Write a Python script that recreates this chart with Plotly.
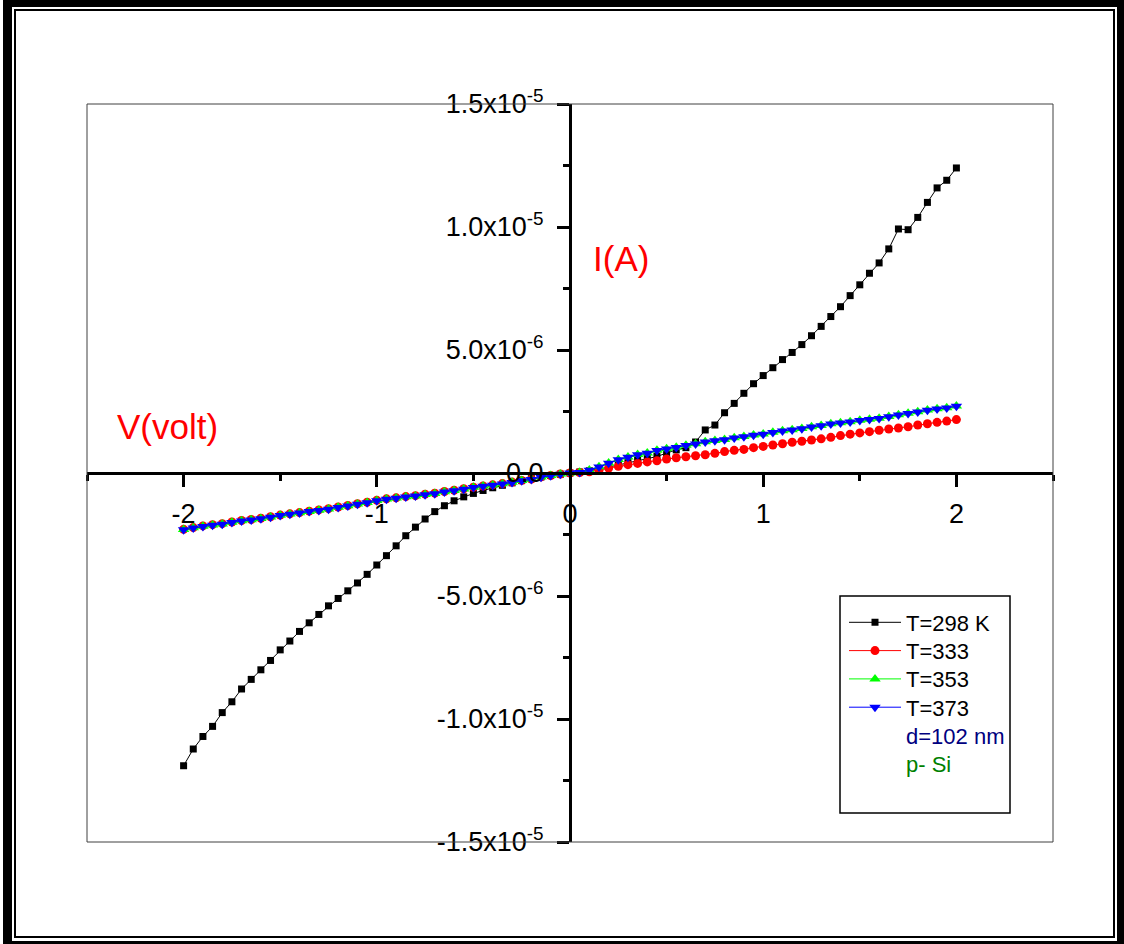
import plotly.graph_objects as go

# Bias voltage sweep (V)
voltage = [
    -2.00, -1.95, -1.90, -1.85, -1.80, -1.75, -1.70, -1.65, -1.60, -1.55,
    -1.50, -1.45, -1.40, -1.35, -1.30, -1.25, -1.20, -1.15, -1.10, -1.05,
    -1.00, -0.95, -0.90, -0.85, -0.80, -0.75, -0.70, -0.65, -0.60, -0.55,
    -0.50, -0.45, -0.40, -0.35, -0.30, -0.25, -0.20, -0.15, -0.10, -0.05,
    0.00, 0.05, 0.10, 0.15, 0.20, 0.25, 0.30, 0.35, 0.40, 0.45,
    0.50, 0.55, 0.60, 0.65, 0.70, 0.75, 0.80, 0.85, 0.90, 0.95,
    1.00, 1.05, 1.10, 1.15, 1.20, 1.25, 1.30, 1.35, 1.40, 1.45,
    1.50, 1.55, 1.60, 1.65, 1.70, 1.75, 1.80, 1.85, 1.90, 1.95,
    2.00,
]

# Measured current in microamps for each temperature
current_298_uA = [
    -11.90, -11.22, -10.71, -10.30, -9.74, -9.30, -8.78, -8.39, -8.00, -7.62,
    -7.19, -6.83, -6.44, -6.09, -5.75, -5.40, -5.10, -4.79, -4.47, -4.12,
    -3.74, -3.36, -2.96, -2.55, -2.20, -1.87, -1.57, -1.33, -1.13, -0.97,
    -0.83, -0.71, -0.60, -0.50, -0.40, -0.31, -0.23, -0.16, -0.10, -0.05,
    0.00, 0.04, 0.09, 0.16, 0.24, 0.33, 0.43, 0.52, 0.59, 0.67,
    0.81, 0.94, 1.03, 1.26, 1.75, 1.95, 2.45, 2.83, 3.24, 3.63,
    3.96, 4.28, 4.61, 4.90, 5.22, 5.58, 5.96, 6.36, 6.76, 7.21,
    7.65, 8.12, 8.54, 9.11, 9.92, 9.89, 10.39, 11.00, 11.59, 11.90,
    12.40,
]
current_333_uA = [
    -2.29, -2.22, -2.15, -2.10, -2.06, -1.99, -1.93, -1.89, -1.84, -1.78,
    -1.71, -1.66, -1.61, -1.55, -1.50, -1.45, -1.38, -1.32, -1.25, -1.19,
    -1.11, -1.05, -1.01, -0.96, -0.92, -0.86, -0.82, -0.75, -0.70, -0.64,
    -0.58, -0.53, -0.48, -0.43, -0.37, -0.30, -0.25, -0.16, -0.10, -0.04,
    0.00, 0.02, 0.05, 0.11, 0.20, 0.27, 0.34, 0.39, 0.45, 0.50,
    0.57, 0.62, 0.66, 0.70, 0.74, 0.80, 0.87, 0.92, 0.96, 1.03,
    1.08, 1.14, 1.19, 1.25, 1.29, 1.34, 1.39, 1.45, 1.52, 1.58,
    1.63, 1.68, 1.74, 1.79, 1.83, 1.88, 1.95, 2.00, 2.06, 2.11,
    2.17,
]
current_353_uA = [
    -2.30, -2.23, -2.16, -2.11, -2.07, -2.00, -1.94, -1.90, -1.85, -1.79,
    -1.72, -1.67, -1.62, -1.56, -1.51, -1.46, -1.39, -1.33, -1.26, -1.20,
    -1.12, -1.06, -1.02, -0.97, -0.93, -0.87, -0.83, -0.76, -0.71, -0.65,
    -0.58, -0.53, -0.49, -0.44, -0.38, -0.30, -0.25, -0.16, -0.10, -0.04,
    0.00, 0.03, 0.12, 0.25, 0.41, 0.55, 0.65, 0.75, 0.81, 0.92,
    0.99, 1.05, 1.13, 1.19, 1.27, 1.32, 1.36, 1.43, 1.48, 1.54,
    1.59, 1.66, 1.72, 1.76, 1.81, 1.88, 1.93, 2.00, 2.04, 2.08,
    2.14, 2.18, 2.23, 2.30, 2.37, 2.43, 2.49, 2.56, 2.61, 2.65,
    2.72,
]
current_373_uA = [
    -2.31, -2.24, -2.17, -2.12, -2.08, -2.01, -1.95, -1.91, -1.86, -1.80,
    -1.73, -1.68, -1.63, -1.57, -1.52, -1.47, -1.40, -1.34, -1.27, -1.21,
    -1.13, -1.07, -1.03, -0.98, -0.94, -0.88, -0.84, -0.77, -0.72, -0.66,
    -0.59, -0.54, -0.50, -0.45, -0.39, -0.31, -0.26, -0.17, -0.11, -0.05,
    0.00, 0.02, 0.11, 0.24, 0.40, 0.54, 0.64, 0.74, 0.80, 0.91,
    0.98, 1.04, 1.12, 1.18, 1.26, 1.31, 1.35, 1.42, 1.47, 1.53,
    1.58, 1.65, 1.71, 1.75, 1.80, 1.87, 1.92, 1.99, 2.03, 2.07,
    2.13, 2.17, 2.22, 2.29, 2.36, 2.42, 2.48, 2.55, 2.60, 2.64,
    2.71,
]

series_names = ["T=298 K", "T=333", "T=353", "T=373"]
series_colors = ["#000000", "#ff0000", "#00ff00", "#0000ff"]
series_symbols = ["square", "circle", "triangle-up", "triangle-down"]
series_sizes = [7, 9, 10, 10]
series_values = [current_298_uA, current_333_uA, current_353_uA, current_373_uA]

y_tickvals = [-1.5e-5, -1.0e-5, -5.0e-6, 0.0, 5.0e-6, 1.0e-5, 1.5e-5]
y_ticktext = [
    "-1.5x10<sup>-5</sup>", "-1.0x10<sup>-5</sup>", "-5.0x10<sup>-6</sup>", "0.0",
    "5.0x10<sup>-6</sup>", "1.0x10<sup>-5</sup>", "1.5x10<sup>-5</sup>",
]
y_minor = [-1.25e-5, -7.5e-6, -2.5e-6, 2.5e-6, 7.5e-6, 1.25e-5]
x_tickvals = [-2, -1, 0, 1, 2]
x_ticktext = ["-2", "-1", "0", "1", "2"]
x_minor = [-2.5, -1.5, -0.5, 0.5, 1.5, 2.5]

W, H = 1124, 944
FONT = "Liberation Sans, Arial, sans-serif"


def px(x):
    return x / W


def py(y):
    return 1 - y / H


legend_ids = ["legend", "legend2", "legend3", "legend4"]
legend_rows = [622.5, 650.8, 679.1, 707.4]

fig = go.Figure()
for name, color, symbol, size, vals, lid in zip(series_names, series_colors, series_symbols,
                                                series_sizes, series_values, legend_ids):
    fig.add_trace(go.Scatter(
        x=voltage,
        y=[v * 1e-6 for v in vals],
        mode="lines+markers",
        name=name,
        legend=lid,
        line=dict(color=color, width=1),
        marker=dict(symbol=symbol, size=size, color=color, line=dict(width=0)),
    ))

x_dom = [px(87), px(1053)]
y_dom = [py(842), py(104)]

axis_common = dict(
    showgrid=False, zeroline=False, showline=True, linecolor="black", linewidth=3,
    ticks="outside", ticklen=12, tickwidth=2.5, tickcolor="black",
    tickfont=dict(family=FONT, size=27, color="black"),
    anchor="free", automargin=False,
)

fig.update_layout(
    template="none",
    width=W, height=H,
    margin=dict(l=0, r=0, t=0, b=0, pad=0),
    paper_bgcolor="white", plot_bgcolor="white",
    xaxis=dict(
        domain=x_dom, range=[-2.5, 2.5], position=(y_dom[0] + y_dom[1]) / 2,
        tickmode="array", tickvals=x_tickvals, ticktext=x_ticktext,
        ticklabelstandoff=4,
        minor=dict(tickmode="array", tickvals=x_minor, ticks="outside", ticklen=6,
                   tickwidth=2.5, tickcolor="black"),
        **axis_common,
    ),
    yaxis=dict(
        domain=y_dom, range=[-1.5e-5, 1.5e-5], position=(x_dom[0] + x_dom[1]) / 2,
        tickmode="array", tickvals=y_tickvals, ticktext=y_ticktext,
        ticklabelstandoff=8,
        minor=dict(tickmode="array", tickvals=y_minor, ticks="outside", ticklen=6,
                   tickwidth=2.5, tickcolor="black"),
        **axis_common,
    ),
    showlegend=True,
    font=dict(family=FONT),
)

legend_style = dict(
    xanchor="left", yanchor="middle",
    bgcolor="rgba(0,0,0,0)", borderwidth=0,
    font=dict(family=FONT, size=22, color="black"),
    itemwidth=52,
)
fig.update_layout({lid: dict(x=px(844), y=py(row), **legend_style)
                   for lid, row in zip(legend_ids, legend_rows)})

shapes = [
    # plot frame
    dict(type="rect", xref="x domain", yref="y domain", x0=0, x1=1, y0=0, y1=1,
         line=dict(color="#404040", width=1)),
    # legend box
    dict(type="rect", xref="paper", yref="paper", x0=px(840), x1=px(1010),
         y0=py(813), y1=py(596), line=dict(color="black", width=1.5)),
    # page border: thick outer band
    dict(type="rect", xref="paper", yref="paper", x0=px(3), x1=px(1124), y0=py(7), y1=py(0),
         fillcolor="black", line=dict(width=0)),
    dict(type="rect", xref="paper", yref="paper", x0=px(3), x1=px(12), y0=py(944), y1=py(0),
         fillcolor="black", line=dict(width=0)),
    dict(type="rect", xref="paper", yref="paper", x0=px(1117), x1=px(1124), y0=py(944), y1=py(0),
         fillcolor="black", line=dict(width=0)),
    dict(type="rect", xref="paper", yref="paper", x0=px(3), x1=px(1124), y0=py(944), y1=py(941),
         fillcolor="black", line=dict(width=0)),
    # page border: thin inner line
    dict(type="rect", xref="paper", yref="paper", x0=px(15), x1=px(1114), y0=py(937), y1=py(10),
         line=dict(color="black", width=2)),
]
fig.update_layout(shapes=shapes)

annotations = [
    dict(text="I(A)", x=px(621), y=py(258), xanchor="center", yanchor="middle",
         font=dict(family=FONT, size=35, color="#ff0000")),
    dict(text="V(volt)", x=px(167), y=py(426), xanchor="center", yanchor="middle",
         font=dict(family=FONT, size=35, color="#ff0000")),
    dict(text="d=102 nm", x=px(904), y=py(736), xanchor="left", yanchor="middle",
         font=dict(family=FONT, size=22, color="#000080")),
    dict(text="p- Si", x=px(904), y=py(764), xanchor="left", yanchor="middle",
         font=dict(family=FONT, size=22, color="#008000")),
]
for a in annotations:
    a.update(xref="paper", yref="paper", showarrow=False)
fig.update_layout(annotations=annotations)

fig.write_html("out.html")
